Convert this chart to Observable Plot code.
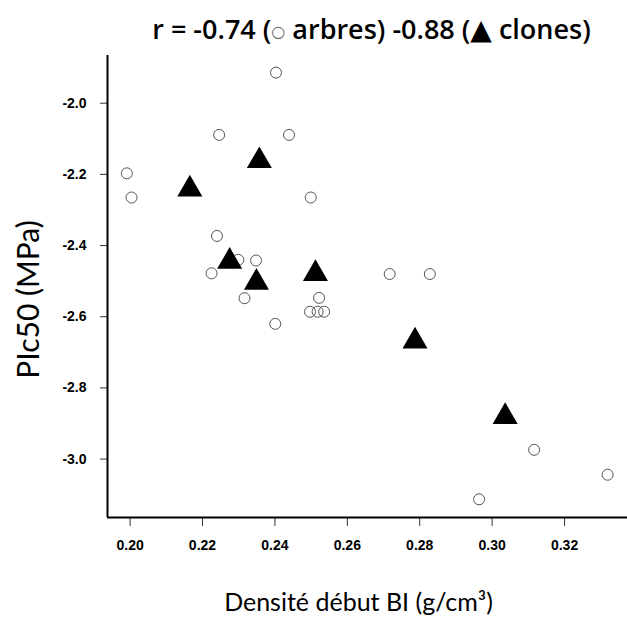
<!DOCTYPE html>
<html>
<head>
<meta charset="utf-8">
<script src="https://cdn.jsdelivr.net/npm/d3@7"></script>
<script src="https://cdn.jsdelivr.net/npm/@observablehq/plot@0.6"></script>
<style>
  html, body { margin: 0; padding: 0; background: #fff; }
  #wrap { position: relative; width: 627px; height: 621px; }
  #title { position: absolute; left: 0; width: 627px; top: 12px; text-align: center;
           font-family: "Open Sans", Lato, sans-serif; font-size: 27px; font-weight: 600; color: #000;
           padding-left: 116px; box-sizing: border-box; white-space: nowrap; line-height: 34px; }
  #title .circ { font-family: "DejaVu Sans"; font-weight: 400; font-size: 16px; color: #666; vertical-align: 2px; }
  #title .tri { font-family: "DejaVu Sans"; font-size: 28px; }
</style>
</head>
<body>
<div id="wrap">
  <div id="title">r = -0.74 (<span class="circ">○</span> arbres) -0.88 (<span class="tri">▲</span> clones)</div>
</div>
<script>
// Arbres (open circles)
const arbresX = [0.2403, 0.2246, 0.2439, 0.1991, 0.2004, 0.2499, 0.2240, 0.2299, 0.2348, 0.2225, 0.2316, 0.2401, 0.2522, 0.2497, 0.2518, 0.2536, 0.2717, 0.2828, 0.3116, 0.3319, 0.2964];
const arbresY = [-1.914, -2.089, -2.089, -2.197, -2.265, -2.265, -2.373, -2.440, -2.442, -2.478, -2.548, -2.620, -2.547, -2.586, -2.586, -2.586, -2.480, -2.480, -2.974, -3.044, -3.113];
// Clones (filled triangles)
const clonesX = [0.2165, 0.2357, 0.2275, 0.2349, 0.2512, 0.2787, 0.3036];
const clonesY = [-2.242, -2.162, -2.445, -2.504, -2.479, -2.669, -2.881];
// Ticks and labels
const xTicks = [0.20, 0.22, 0.24, 0.26, 0.28, 0.30, 0.32];
const yTicks = [-2.0, -2.2, -2.4, -2.6, -2.8, -3.0];
const xDomain = [0.19376, 0.33739];
const yDomain = [-3.1642, -1.8659];
const xLabel = "Densité début BI (g/cm³)";
const yLabel = "PIc50 (MPa)";

const arbres = arbresX.map((x, i) => ({x, y: arbresY[i]}));
const clones = clonesX.map((x, i) => ({x, y: clonesY[i]}));

const chart = Plot.plot({
  width: 627,
  height: 621,
  marginLeft: 107,
  marginTop: 55,
  marginBottom: 104,
  marginRight: 0,
  style: {background: "transparent", overflow: "visible"},
  x: {domain: xDomain, ticks: xTicks, label: null},
  y: {domain: yDomain, ticks: yTicks, label: null},
  marks: [
    Plot.axisX({ticks: xTicks, tickSize: 9, tickPadding: 14, tickFormat: d => d.toFixed(2),
      fontSize: 14, fontWeight: "bold", fontFamily: "Liberation Sans, Arial, sans-serif", stroke: "#333", label: null}),
    Plot.axisY({ticks: yTicks, tickSize: 7, tickPadding: 14, tickFormat: d => d.toFixed(1),
      fontSize: 14, fontWeight: "bold", fontFamily: "Liberation Sans, Arial, sans-serif", stroke: "#333", label: null}),
    Plot.ruleX([xDomain[0]], {stroke: "#000", strokeWidth: 2}),
    Plot.ruleY([yDomain[0]], {stroke: "#000", strokeWidth: 2}),
    Plot.dot(arbres, {x: "x", y: "y", r: 5.5, stroke: "#555", strokeWidth: 1, fill: "none"}),
    Plot.dot(clones, {x: "x", y: "y", r: 9.3, symbol: "triangle", fill: "#000", stroke: "none"}),
    Plot.text([yLabel], {frameAnchor: "left", rotate: -90, dx: -78, dy: 13, fontSize: 30,
      fontFamily: "Lato, sans-serif", fill: "#000", textAnchor: "middle"}),
    Plot.text([xLabel], {frameAnchor: "bottom", dx: -9, dy: 93, fontSize: 25,
      fontFamily: "Lato, sans-serif", fill: "#000", textAnchor: "middle"})
  ]
});
document.getElementById("wrap").prepend(chart);
chart.style.position = "absolute";
chart.style.left = "0";
chart.style.top = "0";
</script>
</body>
</html>
